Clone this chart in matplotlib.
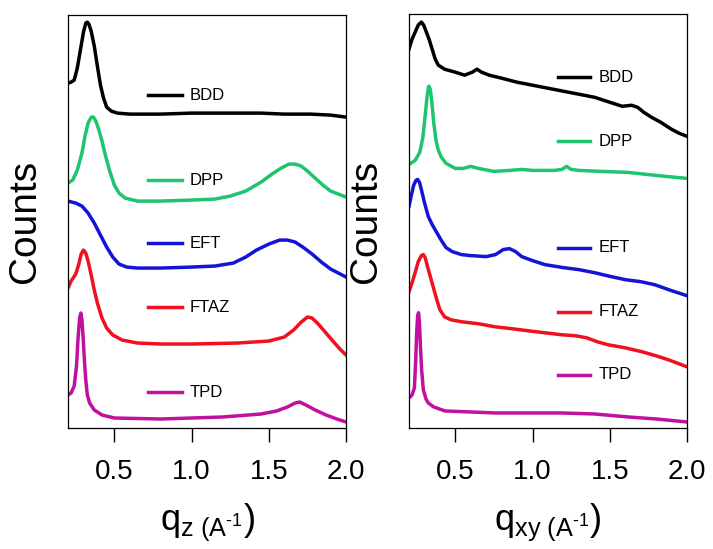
import matplotlib
matplotlib.use("Agg")
import matplotlib.pyplot as plt

plt.rcParams['font.family'] = ['Liberation Sans', 'DejaVu Sans']
plt.rcParams['mathtext.fontset'] = 'custom'
plt.rcParams['mathtext.rm'] = 'Liberation Sans'
plt.rcParams['mathtext.it'] = 'Liberation Sans'

# samples, counts in arbitrary (offset) units
samples = ['BDD', 'DPP', 'EFT', 'FTAZ', 'TPD']
colors = ['#000000', '#1ec46e', '#1414d8', '#f01020', '#c010a0']

# ---- q_z panel ----
qz_bdd = [0.20, 0.22, 0.24, 0.26, 0.28, 0.30, 0.315, 0.325, 0.335, 0.35, 0.37,
          0.39, 0.41, 0.43, 0.45, 0.48, 0.52, 0.6, 0.8, 1.0, 1.2, 1.45, 1.6,
          1.77, 1.9, 2.0]
cz_bdd = [345, 346, 348, 360, 378, 396, 405, 406, 404, 397, 382, 362, 343, 330,
          321, 317, 315, 314, 314, 315, 315, 315, 314, 314, 313, 311]

qz_dpp = [0.20, 0.23, 0.26, 0.29, 0.31, 0.33, 0.35, 0.365, 0.38, 0.40, 0.42,
          0.44, 0.47, 0.50, 0.53, 0.57, 0.65, 0.8, 1.0, 1.15, 1.25, 1.35, 1.45,
          1.52, 1.58, 1.63, 1.67, 1.71, 1.75, 1.80, 1.85, 1.9, 1.95, 2.0]
cz_dpp = [245, 248, 258, 275, 292, 305, 311, 311, 307, 298, 287, 274, 257, 243,
          235, 230, 227, 227, 228, 229, 232, 237, 246, 254, 260, 264, 264, 262,
          257, 250, 243, 237, 234, 231]

qz_eft = [0.20, 0.25, 0.29, 0.33, 0.37, 0.41, 0.45, 0.49, 0.53, 0.58, 0.65,
          0.8, 1.0, 1.15, 1.27, 1.35, 1.42, 1.5, 1.57, 1.62, 1.67, 1.72, 1.78,
          1.84, 1.9, 1.95, 2.0]
cz_eft = [227, 225, 222, 215, 205, 193, 181, 171, 164, 161, 160, 160, 161, 162,
          165, 171, 178, 184, 188, 188, 186, 181, 174, 166, 159, 155, 151]

qz_ftaz = [0.20, 0.22, 0.25, 0.27, 0.285, 0.30, 0.315, 0.33, 0.35, 0.37, 0.39,
           0.42, 0.45, 0.49, 0.55, 0.65, 0.8, 1.0, 1.3, 1.5, 1.6, 1.66, 1.71,
           1.75, 1.78, 1.82, 1.87, 1.92, 1.96, 2.0]
cz_ftaz = [140, 147, 154, 164, 174, 178, 175, 167, 153, 138, 125, 110, 100, 93,
           88, 85, 84, 84, 85, 87, 91, 98, 106, 111, 110, 104, 95, 86, 79, 73]

qz_tpd = [0.20, 0.22, 0.24, 0.255, 0.265, 0.275, 0.283, 0.29, 0.298, 0.306,
          0.315, 0.325, 0.34, 0.37, 0.42, 0.5, 0.8, 1.2, 1.45, 1.55, 1.62, 1.67,
          1.70, 1.74, 1.8, 1.87, 1.94, 2.0]
cz_tpd = [33, 35, 42, 62, 90, 110, 115, 108, 90, 68, 48, 33, 25, 18, 13, 10, 9,
          11, 14, 17, 21, 25, 26, 23, 18, 13, 9, 6]

# ---- q_xy panel ----
qxy_bdd = [0.20, 0.22, 0.24, 0.26, 0.28, 0.295, 0.31, 0.33, 0.35, 0.37, 0.39,
           0.43, 0.5, 0.56, 0.61, 0.64, 0.67, 0.72, 0.8, 0.9, 1.0, 1.1, 1.2,
           1.3, 1.4, 1.5, 1.58, 1.64, 1.68, 1.72, 1.77, 1.83, 1.9, 1.95, 2.0]
cxy_bdd = [378, 388, 395, 402, 405, 402, 396, 388, 378, 368, 362, 358, 355, 352,
           355, 358, 355, 352, 349, 345, 342, 339, 336, 333, 330, 325, 321, 322,
           320, 315, 310, 305, 298, 294, 291]

qxy_dpp = [0.20, 0.24, 0.27, 0.29, 0.305, 0.318, 0.328, 0.338, 0.348, 0.36,
           0.375, 0.39, 0.41, 0.44, 0.5, 0.55, 0.6, 0.65, 0.75, 0.85, 0.93, 1.0,
           1.14, 1.19, 1.22, 1.25, 1.3, 1.45, 1.62, 1.8, 2.0]
cxy_dpp = [263, 267, 275, 290, 312, 332, 341, 338, 325, 305, 287, 277, 270, 264,
           259, 259, 261, 259, 256, 257, 258, 257, 257, 258, 261, 258, 257, 256,
           255, 252, 249]

qxy_eft = [0.20, 0.215, 0.23, 0.245, 0.256, 0.268, 0.28, 0.30, 0.325, 0.35,
           0.38, 0.41, 0.44, 0.48, 0.54, 0.6, 0.7, 0.76, 0.81, 0.85, 0.89, 0.93,
           1.0, 1.08, 1.2, 1.3, 1.4, 1.51, 1.6, 1.7, 1.79, 1.9, 2.0]
cxy_eft = [221, 232, 242, 247, 248, 245, 238, 225, 211, 203, 195, 187, 180, 176,
           173, 172, 171, 173, 178, 179, 176, 171, 167, 163, 160, 158, 155, 151,
           148, 146, 143, 137, 132]

qxy_ftaz = [0.20, 0.22, 0.24, 0.26, 0.28, 0.293, 0.305, 0.32, 0.34, 0.36, 0.38,
            0.40, 0.43, 0.47, 0.54, 0.65, 0.756, 0.87, 0.97, 1.08, 1.19, 1.28,
            1.35, 1.42, 1.49, 1.6, 1.71, 1.8, 1.88, 1.95, 2.0]
cxy_ftaz = [136, 145, 155, 166, 172, 173, 170, 161, 150, 139, 128, 118, 111,
            108, 106, 104, 101, 99, 97, 95, 93, 92, 90, 86, 83, 80, 76, 72, 68,
            64, 61]

qxy_tpd = [0.20, 0.22, 0.235, 0.243, 0.25, 0.256, 0.262, 0.268, 0.274, 0.282,
           0.293, 0.31, 0.325, 0.36, 0.433, 0.6, 0.756, 1.0, 1.19, 1.4, 1.62,
           1.8, 2.0]
cxy_tpd = [30, 33, 40, 65, 95, 112, 115, 105, 82, 58, 38, 29, 25, 21, 17, 16,
           15, 15, 15, 14, 11, 9, 6]

xticks = [0.5, 1.0, 1.5, 2.0]
xtick_labels = ['0.5', '1.0', '1.5', '2.0']

left_q = [qz_bdd, qz_dpp, qz_eft, qz_ftaz, qz_tpd]
left_c = [cz_bdd, cz_dpp, cz_eft, cz_ftaz, cz_tpd]
right_q = [qxy_bdd, qxy_dpp, qxy_eft, qxy_ftaz, qxy_tpd]
right_c = [cxy_bdd, cxy_dpp, cxy_eft, cxy_ftaz, cxy_tpd]

# label layout (line start, line end, text x, heights)
left_lbl_x = (0.72, 0.94, 0.99)
left_lbl_y = [333, 248, 185, 121, 36]
right_lbl_x = (1.164, 1.37, 1.43)
right_lbl_y = [350, 286, 180, 116, 53]

fig = plt.figure(figsize=(7.13, 5.49), dpi=100)
ax1 = fig.add_axes([0.0954, 0.2204, 0.390, 0.752])
ax2 = fig.add_axes([0.5736, 0.2204, 0.390, 0.754])


def draw(ax, qs, cs, lx, ly, xlabel):
    for q, c, col in zip(qs, cs, colors):
        ax.plot(q, c, color=col, lw=2.5, solid_joinstyle='round')
    for name, col, y in zip(samples, colors, ly):
        ax.plot([lx[0], lx[1]], [y, y], color=col, lw=2.5)
        ax.text(lx[2], y, name, fontsize=12, va='center', ha='left')
    ax.set_xlim(0.2, 2.0)
    ax.set_ylim(0, 413)
    ax.set_xticks(xticks)
    ax.set_xticklabels(xtick_labels)
    ax.set_yticks([])
    ax.tick_params(axis='x', direction='out', length=10, width=1,
                   labelsize=20, pad=12)
    for s in ax.spines.values():
        s.set_linewidth(0.9)
    ax.set_ylabel('Counts', fontsize=28, labelpad=18)
    ax.set_xlabel(xlabel, fontsize=26, labelpad=12)


draw(ax1, left_q, left_c, left_lbl_x, left_lbl_y,
     r'$\mathregular{q_{z\ (A^{\text{-}1}})}$')
draw(ax2, right_q, right_c, right_lbl_x, right_lbl_y,
     r'$\mathregular{q_{xy\ (A^{\text{-}1}})}$')

fig.savefig('out.png', dpi=100)
